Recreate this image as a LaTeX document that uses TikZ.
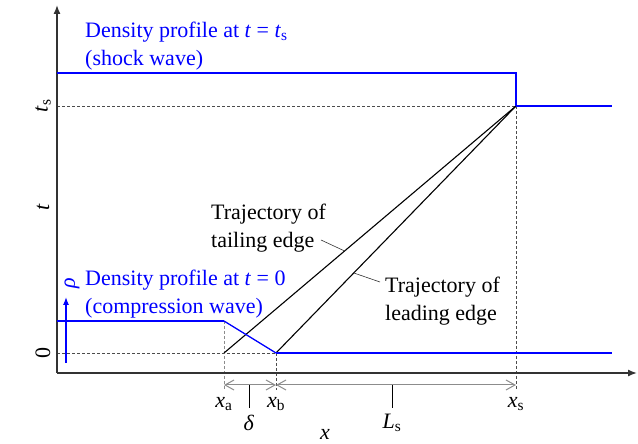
\documentclass[tikz,border=0pt]{standalone}
\usepackage{fontspec}
\setmainfont{Liberation Serif}
\usetikzlibrary{arrows.meta,positioning}

\begin{document}
\begin{tikzpicture}[
x=1pt, y=1pt,
axis/.style={
line width=1.4pt,
draw=black!80,
-{Latex[length=9pt,width=7pt]}
},
guide/.style={
draw=black!70,
line width=0.6pt,
dash pattern=on 3pt off 2pt
},
profile/.style={
draw=blue,
line width=1.3pt
},
bulk/.style={
draw=blue,
line width=2.6pt
},
track/.style={
draw=black,
line width=1.1pt
},
dimline/.style={
draw=black!45,
line width=1pt,
{Straight Barb[length=9pt,width=10pt]}-{Straight Barb[length=9pt,width=10pt]}
},
tickline/.style={
draw=black,
line width=0.9pt
},
leader/.style={
draw=black!80,
line width=0.6pt
},
txt/.style={
font=\fontsize{22}{28}\selectfont,
inner sep=1pt
},
note/.style={
txt,
align=left,
anchor=west
}
]
\useasboundingbox (0,0) rectangle (638,444);

% axes and levels
\coordinate (O) at (57,71);
\coordinate (ytop) at (57,439);
\coordinate (xend) at (637,71);
\coordinate (t0) at (57,91);
\coordinate (tts) at (57,338);
\coordinate (xa) at (224,91);
\coordinate (xb) at (276,91);
\coordinate (xs) at (516,338);
\coordinate (ca) at (224,123);
\coordinate (cl) at (57,123);
\coordinate (cr) at (612,91);
\coordinate (sl) at (57,371);
\coordinate (sc) at (516,371);
\coordinate (sr) at (612,338);
\coordinate (da) at (224,59);
\coordinate (db) at (276,59);
\coordinate (ds) at (516,59);
\coordinate (dd) at (249,59);
\coordinate (dl) at (392,59);
\coordinate (ddend) at (249,36);
\coordinate (dlend) at (392,36);

\draw[guide] (t0) -- (xb);
\draw[guide] (tts) -- (xs);
\draw[guide] (xs) -- (516,54);
\draw[guide, draw=black!45] (ca) -- (224,54);
\draw[guide] (xb) -- (276,54);

\draw[axis] (O) -- (ytop);
\draw[axis] (O) -- (xend);

% trajectories
\draw[track] (xa) -- (xs) coordinate[pos=0.413] (tailpt);
\draw[track] (xb) -- (xs) coordinate[pos=0.324] (leadpt);

% density profiles
\draw[bulk] (cl) -- (ca);
\draw[profile] (ca) -- (xb);
\draw[bulk] (xb) -- (cr);
\draw[profile] (sl) -- (sc) -- (xs);
\draw[bulk] (xs) -- (sr);
\draw[profile, -{Latex[length=8pt,width=6pt]}] (66,81) -- (66,147);

% dimensions
\draw[dimline] (da) -- (db);
\draw[dimline] (db) -- (ds);
\draw[tickline] (dd) -- (ddend);
\draw[tickline] (dl) -- (dlend);

\node[txt, rotate=90] (tslab) at (43,338) {\textit{t}\textsubscript{s}};
\node[txt, rotate=90] (tlab) at (43,237) {\textit{t}};
\node[txt, rotate=90] (zlab) at (43,91) {0};
\node[txt, rotate=90, text=blue] (rholab) at (72,161) {\textit{ρ}};

\node[txt, below=11pt of da] (xalab) {\textit{x}\textsubscript{a}};
\node[txt, below=11pt of db] (xblab) {\textit{x}\textsubscript{b}};
\node[txt, below=11pt of ds] (xslab) {\textit{x}\textsubscript{s}};
\node[txt, below=6pt of ddend] (deltalab) {\textit{δ}};
\node[txt, below=5pt of dlend] (lslab) {\textit{L}\textsubscript{s}};
\node[txt, anchor=base] (xlab) at (325,4) {\textit{x}};

\node[note, text=blue] (shocktext) at (84,398) {Density profile at \textit{t} = \textit{t}\textsubscript{s}\\(shock wave)};
\node[note, text=blue] (comptext) at (84,150) {Density profile at \textit{t} = 0\\(compression wave)};
\node[note] (tailtext) at (210,216) {Trajectory of\\tailing edge};
\node[note] (leadtext) at (384,143) {Trajectory of\\leading edge};

\draw[leader] (321,204) -- (tailpt);
\draw[leader] (380,162) -- (leadpt);

\end{tikzpicture}
\end{document}
